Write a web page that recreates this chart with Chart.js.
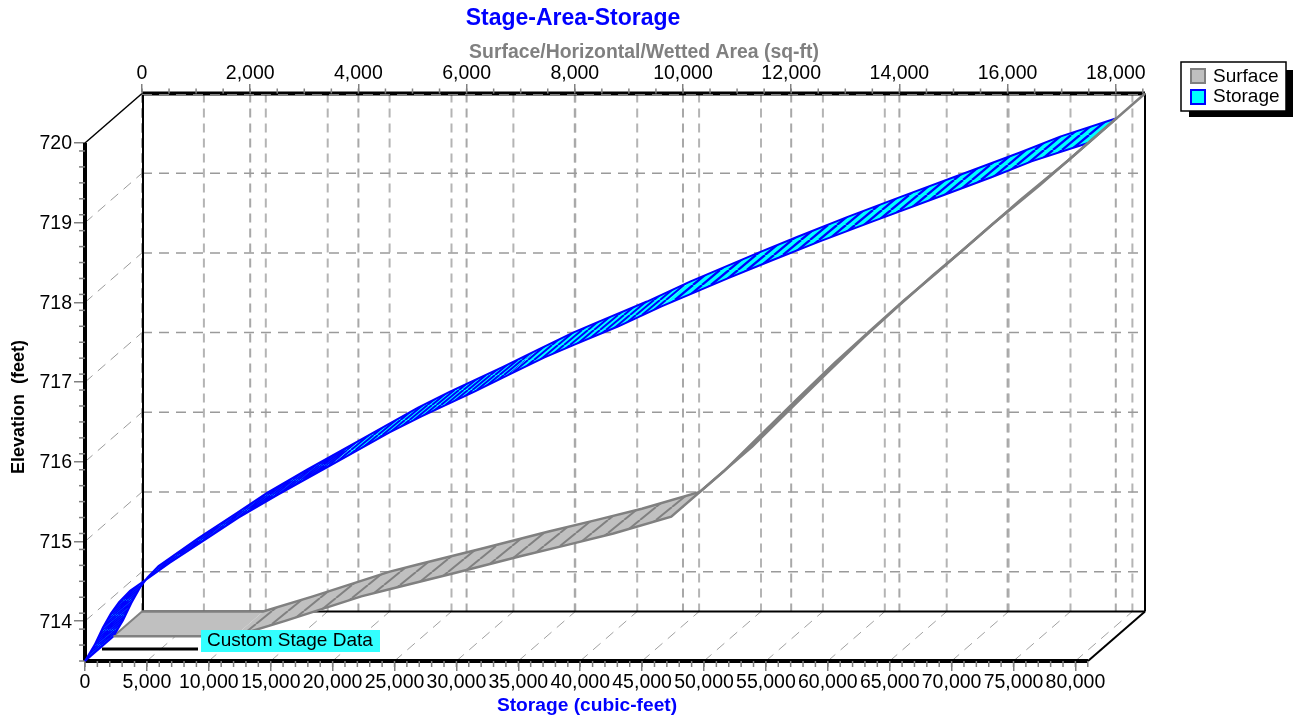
<!DOCTYPE html>
<html>
<head>
<meta charset="utf-8">
<title>Stage-Area-Storage</title>
<script src="https://cdn.jsdelivr.net/npm/chart.js@4"></script>
<style>
  body { margin: 0; background: #ffffff; }
  canvas { display: block; }
</style>
</head>
<body>
<canvas id="stageChart" width="1300" height="719"></canvas>
<script>
// Data
const storageTicks = [0, 5000, 10000, 15000, 20000, 25000, 30000, 35000, 40000, 45000, 50000, 55000, 60000, 65000, 70000, 75000, 80000];
const areaTicks = [0, 2000, 4000, 6000, 8000, 10000, 12000, 14000, 16000, 18000];
const elevationTicks = [714, 715, 716, 717, 718, 719, 720];

const storageElevation = [713.5, 713.7, 713.92, 714.1, 714.24, 714.38, 714.48, 714.73, 715.05, 715.3, 715.59, 715.96, 716.37, 716.57, 716.88, 717.09, 717.31, 717.47, 717.7, 717.95, 718.31, 718.51, 718.76, 719.01, 719.35, 719.57, 719.77, 720];
const storageVolume = [0, 770, 1450, 2100, 2750, 3640, 4560, 6830, 9980, 12400, 15630, 19910, 24600, 27180, 31460, 34210, 37120, 39540, 43090, 46570, 52060, 55210, 59250, 63530, 69430, 73220, 76460, 81020];

const surfaceElevation = [713.5, 713.5, 713.69, 714, 714.09, 714.29, 714.5, 714.65, 714.79, 715, 715.57, 716.01, 716.49, 716.93, 717.32, 717.72, 718.04, 718.66, 719.16, 720];
const surfaceArea = [0, 2240, 3160, 4580, 5100, 6290, 7500, 8410, 9240, 10310, 11280, 11940, 12660, 13330, 13960, 14620, 15180, 16230, 17120, 18540];

// Plot box: the box covers the front plane and the back plane together
const plotW = 1060, plotH = 569;
const depthX = 57, depthY = 49.5;
const xRange = [0, 85622];
const topRange = [-1053.6, 18540];
const yRange = [713.5, 720.64];

function shiftedX(range, dx) {
    const d = dx * (range[1] - range[0]) / plotW;
    return { min: range[0] - d, max: range[1] - d };
}
function shiftedY(range, dy) {
    const d = dy * (range[1] - range[0]) / plotH;
    return { min: range[0] - d, max: range[1] - d };
}

function toPoints(xs, ys) {
    return xs.map((v, i) => ({ x: v, y: ys[i] }));
}

// diagonal stripes running along the depth of the box, n stripes per tile
function hatch(bg, line, w, h, n, lw) {
    const c = document.createElement('canvas');
    c.width = w; c.height = h;
    const g = c.getContext('2d');
    g.fillStyle = bg;
    g.fillRect(0, 0, w, h);
    g.strokeStyle = line;
    g.lineWidth = lw;
    g.beginPath();
    for (let k = -2 * n; k <= 2 * n; k++) {
        const sx = k * w / n;
        g.moveTo(sx, h);
        g.lineTo(sx + w, 0);
    }
    g.stroke();
    return g.createPattern(c, 'repeat');
}

function seg(ctx, x1, y1, x2, y2, color, width, dash) {
    ctx.save();
    ctx.strokeStyle = color;
    ctx.lineWidth = width;
    ctx.setLineDash(dash || []);
    ctx.beginPath();
    ctx.moveTo(x1, y1);
    ctx.lineTo(x2, y2);
    ctx.stroke();
    ctx.restore();
}

function label(ctx, text, x, y, font, color, align, angle) {
    ctx.save();
    ctx.translate(x, y);
    if (angle) ctx.rotate(angle);
    ctx.font = font;
    ctx.fillStyle = color;
    ctx.textAlign = align || 'center';
    ctx.textBaseline = 'middle';
    ctx.fillText(text, 0, 0);
    ctx.restore();
}

function ribbon(ctx, a, b, fill, from, to) {
    ctx.beginPath();
    ctx.moveTo(a[from].x, a[from].y);
    for (let i = from + 1; i <= to; i++) ctx.lineTo(a[i].x, a[i].y);
    for (let i = to; i >= from; i--) ctx.lineTo(b[i].x, b[i].y);
    ctx.closePath();
    ctx.fillStyle = fill;
    ctx.fill();
}

const surfaceHatch = hatch('#c0c0c0', '#808080', 16, 13, 1, 2);
// stripes crowd together lower down, where the curve runs close to the depth direction
const storageHatches = [
    { to: 11, fill: hatch('#00ffff', '#0000ff', 18, 15, 7, 1.6) },
    { to: 15, fill: hatch('#00ffff', '#0000ff', 18, 15, 4, 2) },
    { to: 19, fill: hatch('#00ffff', '#0000ff', 18, 15, 3, 2) },
    { to: 27, fill: hatch('#00ffff', '#0000ff', 18, 15, 2, 2.3) }
];

const wallsPlugin = {
    id: 'walls',
    beforeDatasetsDraw(chart) {
        const ctx = chart.ctx, s = chart.scales;
        const frontLeft = s.x.getPixelForValue(0), floorFront = s.y.bottom;
        const frontRight = frontLeft + 1003;
        const backLeft = frontLeft + depthX, backRight = frontRight + depthX;
        const floorBack = floorFront - depthY;
        const backTop = s.yBack.getPixelForValue(720), frontTop = s.y.getPixelForValue(720);
        const vDash = [9, 6], hDash = [10, 7];

        // back wall grid
        storageTicks.forEach(v => {
            const px = s.x.getPixelForValue(v);
            seg(ctx, px + depthX, backTop, px + depthX, floorBack, '#b4b4b4', 2, vDash);
            if (v > 0) seg(ctx, px, floorFront, px + depthX, floorBack, '#a0a0a0', 1, hDash);
        });
        areaTicks.forEach(v => {
            const px = s.xTop.getPixelForValue(v);
            seg(ctx, px, backTop, px, floorBack, '#a8a8a8', 2, vDash);
        });
        elevationTicks.forEach(v => {
            const fy = s.y.getPixelForValue(v), by = s.yBack.getPixelForValue(v);
            if (v < 720) {
                seg(ctx, backLeft, by, backRight, by, '#9a9a9a', 1.5, hDash);
                seg(ctx, frontLeft, fy, backLeft, by, '#9a9a9a', 1, hDash);
            }
        });

        // frame
        seg(ctx, backLeft + 1, backTop, backLeft + 1, floorBack, '#000000', 2);
        seg(ctx, backRight, backTop, backRight, floorBack, '#000000', 2);
        seg(ctx, backLeft, floorBack, backRight, floorBack, '#000000', 2);
        seg(ctx, backLeft, backTop, backRight, backTop, '#000000', 4);
        seg(ctx, backLeft, backTop + 1, backRight, backTop + 1, '#808080', 1, hDash);
        seg(ctx, frontLeft, frontTop, backLeft, backTop, '#000000', 1.5);
        seg(ctx, frontRight, floorFront, backRight, floorBack, '#000000', 2);
        seg(ctx, frontLeft, frontTop, frontLeft, floorFront, '#000000', 4);
        seg(ctx, frontLeft, floorFront, frontRight, floorFront, '#000000', 4);

        // minor ticks
        for (let v = 0; v <= 81000; v += 1000) {
            const px = s.x.getPixelForValue(v);
            seg(ctx, px, floorFront, px, floorFront + 6, '#808080', 1.5);
        }
        for (let v = 0; v <= 18500; v += 500) {
            const px = s.xTop.getPixelForValue(v);
            seg(ctx, px, backTop, px, backTop - 5, '#808080', 1.5);
        }
        for (let v = 7135; v <= 7200; v += 2) {
            const py = s.y.getPixelForValue(v / 10);
            seg(ctx, frontLeft, py, frontLeft - 6, py, '#808080', 1.5);
        }

        // ribbons: flat floor part is plain, the slope above 715 closes up to a solid line
        const surfFront = chart.getDatasetMeta(0).data, surfBack = chart.getDatasetMeta(1).data;
        const storFront = chart.getDatasetMeta(2).data, storBack = chart.getDatasetMeta(3).data;
        ribbon(ctx, surfFront, surfBack, '#c0c0c0', 0, 1);
        ribbon(ctx, surfFront, surfBack, surfaceHatch, 1, 9);
        ribbon(ctx, surfFront, surfBack, '#808080', 9, surfFront.length - 1);
        seg(ctx, surfFront[0].x, surfFront[0].y, surfBack[0].x, surfBack[0].y, '#808080', 2);
        let from = 0;
        storageHatches.forEach(h => {
            ribbon(ctx, storFront, storBack, h.fill, from, h.to);
            from = h.to;
        });
        seg(ctx, storFront[0].x, storFront[0].y, storBack[0].x, storBack[0].y, '#0000ff', 2);
    },
    afterDatasetsDraw(chart) {
        const ctx = chart.ctx;
        // stage data note
        seg(ctx, 102, 649, 198, 649, '#000000', 3);
        ctx.fillStyle = '#33ffff';
        ctx.fillRect(201, 630, 179, 22);
        label(ctx, 'Custom Stage Data', 207, 641, '19px "Liberation Sans"', '#000000', 'left');

        // titles
        label(ctx, 'Stage-Area-Storage', 573, 19, 'bold 23px "Liberation Sans"', '#0000ff');
        label(ctx, 'Surface/Horizontal/Wetted Area (sq-ft)', 644, 53, 'bold 19.4px "Liberation Sans"', '#808080');
        label(ctx, 'Storage (cubic-feet)', 587, 706, 'bold 19.2px "Liberation Sans"', '#0000ff');
        label(ctx, 'Elevation  (feet)', 19, 407, 'bold 18px "Liberation Sans"', '#000000', 'center', -Math.PI / 2);

        // legend
        ctx.fillStyle = '#000000';
        ctx.fillRect(1189, 70, 104, 47);
        ctx.fillStyle = '#ffffff';
        ctx.fillRect(1181, 62, 105, 49);
        ctx.strokeStyle = '#000000';
        ctx.lineWidth = 1.5;
        ctx.strokeRect(1181, 62, 105, 49);
        ctx.lineWidth = 2;
        ctx.fillStyle = '#c0c0c0';
        ctx.strokeStyle = '#808080';
        ctx.fillRect(1191, 69, 14, 14);
        ctx.strokeRect(1191, 69, 14, 14);
        ctx.fillStyle = '#00ffff';
        ctx.strokeStyle = '#0000ff';
        ctx.fillRect(1191, 90, 14, 14);
        ctx.strokeRect(1191, 90, 14, 14);
        label(ctx, 'Surface', 1213, 77, '19px "Liberation Sans"', '#000000', 'left');
        label(ctx, 'Storage', 1213, 97, '19px "Liberation Sans"', '#000000', 'left');
    }
};

const tickFont = { family: '"Liberation Sans"', size: 19.5 };
const hidden = { type: 'linear', display: false };

new Chart(document.getElementById('stageChart'), {
    type: 'scatter',
    plugins: [wallsPlugin],
    data: {
        datasets: [
            {
                label: 'Surface',
                data: toPoints(surfaceArea, surfaceElevation),
                xAxisID: 'xTopHalf', yAxisID: 'yHalf',
                showLine: true, pointRadius: 0, borderColor: '#808080', borderWidth: 2.5, clip: false
            },
            {
                label: 'Surface back',
                data: toPoints(surfaceArea, surfaceElevation),
                xAxisID: 'xTop', yAxisID: 'yBack',
                showLine: true, pointRadius: 0, borderColor: '#808080', borderWidth: 2.5, clip: false
            },
            {
                label: 'Storage',
                data: toPoints(storageVolume, storageElevation),
                xAxisID: 'x', yAxisID: 'y',
                showLine: true, pointRadius: 0, borderColor: '#0000ff', borderWidth: 2, clip: false
            },
            {
                label: 'Storage back',
                data: toPoints(storageVolume, storageElevation),
                xAxisID: 'xHalf', yAxisID: 'yHalf',
                showLine: true, pointRadius: 0, borderColor: '#0000ff', borderWidth: 2, clip: false
            }
        ]
    },
    options: {
        responsive: false,
        animation: false,
        layout: { padding: { left: 0, right: 155, top: 0, bottom: 0 } },
        plugins: { legend: { display: false }, title: { display: false }, tooltip: { enabled: false } },
        scales: {
            x: {
                type: 'linear', position: 'bottom', min: xRange[0], max: xRange[1],
                border: { display: false },
                grid: { drawOnChartArea: false, tickLength: 10, tickColor: '#808080', lineWidth: 1.5 },
                ticks: { autoSkip: false, maxRotation: 0, font: tickFont, color: '#000000', padding: 0, callback: v => v.toLocaleString('en-US') },
                afterBuildTicks: scale => { scale.ticks = storageTicks.map(v => ({ value: v })); },
                afterFit: scale => { scale.height = 58; }
            },
            xTop: {
                type: 'linear', axis: 'x', position: 'top', min: topRange[0], max: topRange[1],
                border: { display: false },
                grid: { drawOnChartArea: false, tickLength: 8, tickColor: '#808080', lineWidth: 1.5 },
                ticks: { autoSkip: false, maxRotation: 0, font: tickFont, color: '#000000', padding: -1, callback: v => v.toLocaleString('en-US') },
                afterBuildTicks: scale => { scale.ticks = areaTicks.map(v => ({ value: v })); },
                afterFit: scale => { scale.height = 92; }
            },
            y: {
                type: 'linear', position: 'left', min: yRange[0], max: yRange[1],
                border: { display: false },
                grid: { drawOnChartArea: false, tickLength: 11, tickColor: '#808080', lineWidth: 1.5 },
                ticks: { autoSkip: false, font: tickFont, color: '#000000', padding: 2, labelOffset: 1 },
                afterBuildTicks: scale => { scale.ticks = elevationTicks.map(v => ({ value: v })); },
                afterFit: scale => { scale.width = 85; }
            },
            // same values pushed back into the depth of the box
            xHalf: { ...hidden, axis: 'x', ...shiftedX(xRange, depthX / 2) },
            xTopHalf: { ...hidden, axis: 'x', ...shiftedX(topRange, -depthX / 2) },
            yHalf: { ...hidden, axis: 'y', ...shiftedY(yRange, depthY / 2) },
            yBack: { ...hidden, axis: 'y', ...shiftedY(yRange, depthY) }
        }
    }
});
</script>
</body>
</html>
